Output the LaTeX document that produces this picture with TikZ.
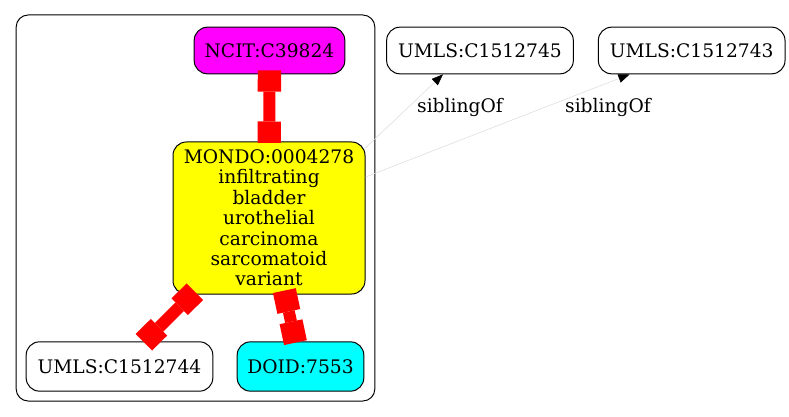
\documentclass[tikz,border=0pt]{standalone}
\usepackage{fontspec}
\setmainfont{DejaVu Serif}
\usetikzlibrary{arrows.meta, positioning}
\definecolor{ncitpink}{HTML}{FF00FF}
\definecolor{mondoyellow}{HTML}{FFFF00}
\definecolor{doidcyan}{HTML}{00FFFF}
\definecolor{xrefred}{HTML}{FF0000}
\tikzset{
    term/.style={rectangle, draw=black, line width=0.75pt, fill=white, rounded corners=10pt, align=center, inner sep=2pt, font=\fontsize{14}{15.3}\selectfont},
    ncitbox/.style={term, fill=ncitpink},
    mondobox/.style={term, fill=mondoyellow},
    doidbox/.style={term, fill=doidcyan},
    cluster/.style={rectangle, draw=black, line width=0.75pt, rounded corners=9pt},
    xref/.style={{Square[length=16pt,width=17.5pt,line width=0pt]}-{Square[length=16pt,width=17.5pt,line width=0pt]}, line width=9pt, draw=xrefred, fill=xrefred, shorten <=-3pt, shorten >=-1pt},
    sibling/.style={-{Triangle[length=8.5pt,width=6.5pt,color=black]}, draw=black!14, line width=0.4pt},
    lbl/.style={font=\fontsize{14}{15.3}\selectfont}
}
\begin{document}
\begin{tikzpicture}[x=0.75pt, y=-0.75pt, node distance=18pt]
    \useasboundingbox (0,0) rectangle (789,417);

    \node[cluster, minimum width=269pt, minimum height=289.5pt] (grp) at (195.5,208) {};

    \node[ncitbox, minimum width=113pt, minimum height=35pt] (ncit) at (269.5,50.5) {NCIT:C39824};
    \node[mondobox, minimum width=144pt, minimum height=114pt] (mondo) at (269,218) {MONDO:0004278\\infiltrating\\bladder\\urothelial\\carcinoma\\sarcomatoid\\variant};
    \node[term, minimum width=140pt, minimum height=37pt] (u44) at (119.5,366.5) {UMLS:C1512744};
    \node[doidbox, minimum width=95pt, minimum height=37pt] (doid) at (300.5,366.5) {DOID:7553};

    \node[term, minimum width=140pt, minimum height=35pt] (u45) at (480,50.5) {UMLS:C1512745};
    \node[term, minimum width=140pt, minimum height=35pt, right=of u45] (u43) {UMLS:C1512743};

    \draw[xref] (ncit) -- (mondo);
    \draw[xref] (mondo) -- (u44);
    \draw[xref] (mondo) -- (doid);

    \draw[sibling] (mondo.36) -- ([xshift=-27.75pt]u45.south);
    \draw[sibling] ([yshift=30.75pt]mondo.east) -- ([xshift=-46.5pt]u43.south);
    \node[lbl] (lab45) at (460,107) {siblingOf};
    \node[lbl] (lab43) at (608,107) {siblingOf};
\end{tikzpicture}
\end{document}
